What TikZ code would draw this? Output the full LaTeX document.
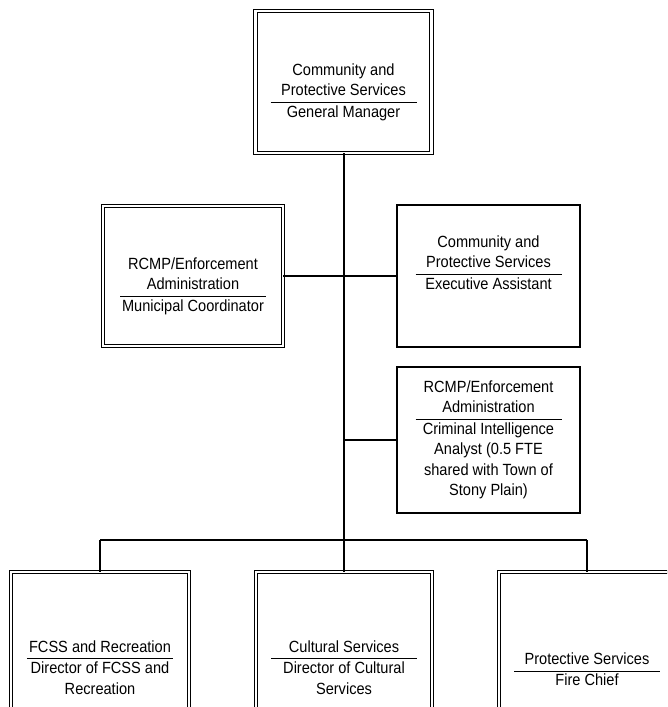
\documentclass[tikz,border=0pt]{standalone}
\usepackage{fontspec}
\setmainfont{Liberation Sans}[FakeStretch=0.9]
\usepackage{array}
\newcolumntype{C}{>{\centering\arraybackslash}p{146pt}}
% unit title above a rule, position title below it
\newcommand{\roletext}[2]{\begin{tabular}{@{}C@{}}#1\\\hline #2\end{tabular}}
\tikzset{
  unitbox/.style={draw, double, double distance=2.4pt, line width=1.1pt,
    rectangle, inner sep=0pt, outer sep=0pt},
  plainbox/.style={draw, line width=1.2pt, rectangle, inner sep=0pt, outer sep=0pt},
  link/.style={line width=1.4pt},
  rolefont/.style={font=\fontsize{16.2}{20.5}\selectfont, inner sep=0pt}
}
\setlength{\arrayrulewidth}{1pt}
\begin{document}
\begin{tikzpicture}[x=1pt, y=-1pt]
  \useasboundingbox (0,0) rectangle (667,707);
  \clip (0,0) rectangle (667,707);

  % management boxes
  \node[unitbox, minimum width=176pt, minimum height=142pt] (gm) at (343.5,82) {};
  \node[unitbox, minimum width=180pt, minimum height=140pt] (mc) at (193,276) {};
  \node[plainbox, minimum width=183pt, minimum height=142pt] (ea) at (488.5,276) {};
  \node[plainbox, minimum width=183pt, minimum height=146pt] (ci) at (488.5,440) {};

  % department boxes
  \node[unitbox, minimum width=178pt, minimum height=200pt] (fr) at (100,672) {};
  \node[unitbox, minimum width=176pt, minimum height=200pt] (cs) at (344,672) {};
  \node[unitbox, minimum width=176pt, minimum height=200pt] (ps) at (587,672) {};

  % titles
  \node[rolefont] (gm-t) at (343.5,92)
    {\roletext{Community and\\Protective Services}{General Manager}};
  \node[rolefont] (mc-t) at (193,286)
    {\roletext{RCMP/Enforcement\\Administration}{Municipal Coordinator}};
  \node[rolefont] (ea-t) at (488.5,264)
    {\roletext{Community and\\Protective Services}{Executive Assistant}};
  \node[rolefont] (ci-t) at (488.5,440)
    {\roletext{RCMP/Enforcement\\Administration}{Criminal Intelligence\\Analyst (0.5 FTE\\shared with Town of\\Stony Plain)}};
  \node[rolefont] (fr-t) at (100,669)
    {\roletext{FCSS and Recreation}{Director of FCSS and\\Recreation}};
  \node[rolefont] (cs-t) at (344,669)
    {\roletext{Cultural Services}{Director of Cultural\\Services}};
  \node[rolefont] (ps-t) at (587,671)
    {\roletext{Protective Services}{Fire Chief}};

  % reporting lines
  \coordinate (bus) at (344,540);
  \draw[link] (gm.south -| bus) -- (bus);
  \draw[link] (mc.east) -- (mc.east -| bus);
  \draw[link] (ea.west) -- (ea.west -| bus);
  \draw[link] (ci.west) -- (ci.west -| bus);
  \draw[link] (fr.north |- bus) -- (ps.north |- bus);
  \draw[link] (fr.north |- bus) -- (fr.north);
  \draw[link] (bus) -- (cs.north);
  \draw[link] (ps.north |- bus) -- (ps.north);
\end{tikzpicture}
\end{document}
